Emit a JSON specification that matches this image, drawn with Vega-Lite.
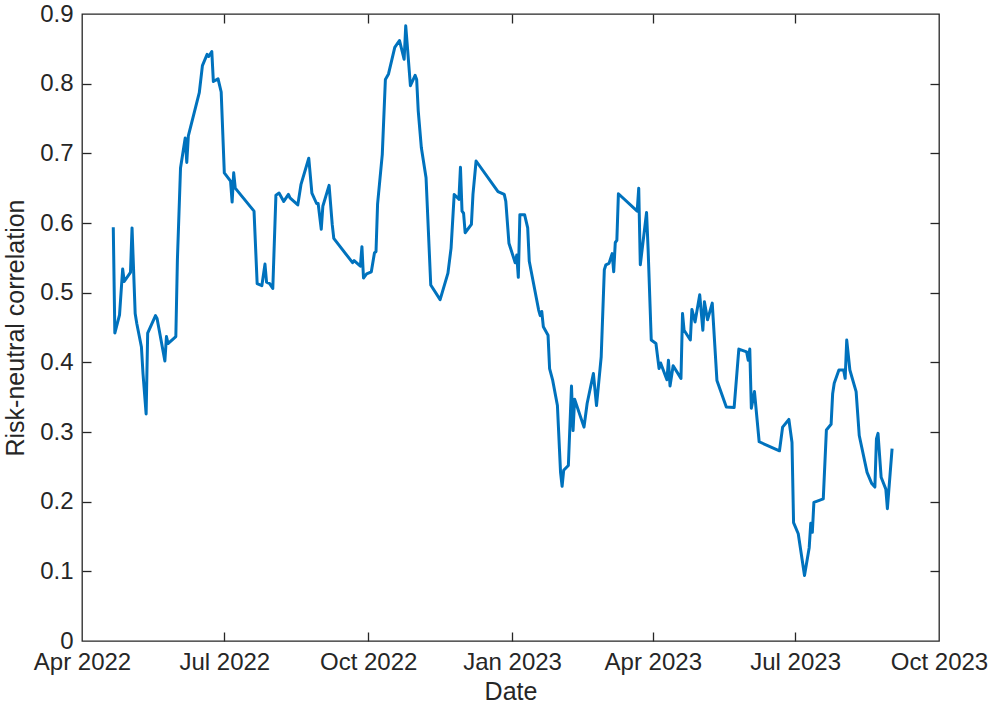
{
  "$schema": "https://vega.github.io/schema/vega-lite/v6.json",
  "autosize": "none",
  "width": 857,
  "height": 627,
  "padding": {"left": 82, "top": 14, "right": 57, "bottom": 67},
  "background": "white",
  "config": {
    "view": {"stroke": "#262626", "strokeWidth": 1.3},
    "font": "Liberation Sans",
    "axis": {
      "labelFont": "Liberation Sans",
      "labelFontSize": 24,
      "labelColor": "#262626",
      "titleFont": "Liberation Sans",
      "titleFontSize": 25,
      "titleFontWeight": "normal",
      "titleColor": "#262626",
      "domain": false,
      "tickColor": "#262626",
      "tickWidth": 1.3,
      "tickSize": 9,
      "grid": false
    }
  },
  "datasets": {
    "series": [
      {"date": "2022-04-21", "v": 0.594},
      {"date": "2022-04-22", "v": 0.442},
      {"date": "2022-04-25", "v": 0.468},
      {"date": "2022-04-27", "v": 0.534},
      {"date": "2022-04-28", "v": 0.516},
      {"date": "2022-05-02", "v": 0.529},
      {"date": "2022-05-03", "v": 0.593},
      {"date": "2022-05-05", "v": 0.470},
      {"date": "2022-05-06", "v": 0.456},
      {"date": "2022-05-09", "v": 0.422},
      {"date": "2022-05-10", "v": 0.384},
      {"date": "2022-05-12", "v": 0.326},
      {"date": "2022-05-13", "v": 0.442},
      {"date": "2022-05-18", "v": 0.467},
      {"date": "2022-05-19", "v": 0.463},
      {"date": "2022-05-24", "v": 0.402},
      {"date": "2022-05-25", "v": 0.437},
      {"date": "2022-05-26", "v": 0.427},
      {"date": "2022-05-31", "v": 0.437},
      {"date": "2022-06-01", "v": 0.547},
      {"date": "2022-06-03", "v": 0.679},
      {"date": "2022-06-06", "v": 0.722},
      {"date": "2022-06-07", "v": 0.687},
      {"date": "2022-06-08", "v": 0.725},
      {"date": "2022-06-15", "v": 0.787},
      {"date": "2022-06-17", "v": 0.826},
      {"date": "2022-06-20", "v": 0.842},
      {"date": "2022-06-21", "v": 0.839},
      {"date": "2022-06-23", "v": 0.846},
      {"date": "2022-06-24", "v": 0.803},
      {"date": "2022-06-27", "v": 0.807},
      {"date": "2022-06-29", "v": 0.788},
      {"date": "2022-07-01", "v": 0.672},
      {"date": "2022-07-05", "v": 0.660},
      {"date": "2022-07-06", "v": 0.630},
      {"date": "2022-07-07", "v": 0.672},
      {"date": "2022-07-08", "v": 0.650},
      {"date": "2022-07-20", "v": 0.617},
      {"date": "2022-07-22", "v": 0.513},
      {"date": "2022-07-25", "v": 0.510},
      {"date": "2022-07-27", "v": 0.541},
      {"date": "2022-07-28", "v": 0.515},
      {"date": "2022-07-30", "v": 0.513},
      {"date": "2022-08-01", "v": 0.506},
      {"date": "2022-08-03", "v": 0.640},
      {"date": "2022-08-05", "v": 0.643},
      {"date": "2022-08-08", "v": 0.631},
      {"date": "2022-08-11", "v": 0.641},
      {"date": "2022-08-12", "v": 0.636},
      {"date": "2022-08-17", "v": 0.626},
      {"date": "2022-08-19", "v": 0.655},
      {"date": "2022-08-24", "v": 0.693},
      {"date": "2022-08-26", "v": 0.643},
      {"date": "2022-08-29", "v": 0.628},
      {"date": "2022-08-30", "v": 0.628},
      {"date": "2022-09-01", "v": 0.591},
      {"date": "2022-09-02", "v": 0.624},
      {"date": "2022-09-06", "v": 0.654},
      {"date": "2022-09-08", "v": 0.598},
      {"date": "2022-09-09", "v": 0.578},
      {"date": "2022-09-21", "v": 0.543},
      {"date": "2022-09-22", "v": 0.546},
      {"date": "2022-09-26", "v": 0.538},
      {"date": "2022-09-27", "v": 0.566},
      {"date": "2022-09-28", "v": 0.521},
      {"date": "2022-09-30", "v": 0.527},
      {"date": "2022-10-03", "v": 0.530},
      {"date": "2022-10-05", "v": 0.557},
      {"date": "2022-10-06", "v": 0.559},
      {"date": "2022-10-07", "v": 0.627},
      {"date": "2022-10-10", "v": 0.698},
      {"date": "2022-10-12", "v": 0.806},
      {"date": "2022-10-14", "v": 0.814},
      {"date": "2022-10-18", "v": 0.852},
      {"date": "2022-10-21", "v": 0.862},
      {"date": "2022-10-24", "v": 0.835},
      {"date": "2022-10-25", "v": 0.883},
      {"date": "2022-10-26", "v": 0.855},
      {"date": "2022-10-28", "v": 0.797},
      {"date": "2022-10-31", "v": 0.812},
      {"date": "2022-11-01", "v": 0.806},
      {"date": "2022-11-02", "v": 0.761},
      {"date": "2022-11-04", "v": 0.708},
      {"date": "2022-11-07", "v": 0.665},
      {"date": "2022-11-10", "v": 0.511},
      {"date": "2022-11-16", "v": 0.490},
      {"date": "2022-11-21", "v": 0.528},
      {"date": "2022-11-23", "v": 0.564},
      {"date": "2022-11-25", "v": 0.641},
      {"date": "2022-11-28", "v": 0.634},
      {"date": "2022-11-29", "v": 0.680},
      {"date": "2022-11-30", "v": 0.617},
      {"date": "2022-12-01", "v": 0.614},
      {"date": "2022-12-02", "v": 0.586},
      {"date": "2022-12-06", "v": 0.598},
      {"date": "2022-12-07", "v": 0.641},
      {"date": "2022-12-09", "v": 0.689},
      {"date": "2022-12-23", "v": 0.645},
      {"date": "2022-12-27", "v": 0.641},
      {"date": "2022-12-28", "v": 0.631},
      {"date": "2022-12-30", "v": 0.571},
      {"date": "2023-01-03", "v": 0.543},
      {"date": "2023-01-04", "v": 0.554},
      {"date": "2023-01-05", "v": 0.522},
      {"date": "2023-01-06", "v": 0.612},
      {"date": "2023-01-09", "v": 0.612},
      {"date": "2023-01-11", "v": 0.593},
      {"date": "2023-01-12", "v": 0.545},
      {"date": "2023-01-18", "v": 0.475},
      {"date": "2023-01-19", "v": 0.467},
      {"date": "2023-01-20", "v": 0.473},
      {"date": "2023-01-21", "v": 0.451},
      {"date": "2023-01-24", "v": 0.439},
      {"date": "2023-01-25", "v": 0.391},
      {"date": "2023-01-27", "v": 0.374},
      {"date": "2023-01-30", "v": 0.338},
      {"date": "2023-02-01", "v": 0.242},
      {"date": "2023-02-02", "v": 0.222},
      {"date": "2023-02-03", "v": 0.245},
      {"date": "2023-02-06", "v": 0.252},
      {"date": "2023-02-08", "v": 0.366},
      {"date": "2023-02-09", "v": 0.302},
      {"date": "2023-02-10", "v": 0.347},
      {"date": "2023-02-16", "v": 0.307},
      {"date": "2023-02-18", "v": 0.341},
      {"date": "2023-02-22", "v": 0.384},
      {"date": "2023-02-24", "v": 0.338},
      {"date": "2023-02-27", "v": 0.408},
      {"date": "2023-03-01", "v": 0.533},
      {"date": "2023-03-02", "v": 0.540},
      {"date": "2023-03-04", "v": 0.542},
      {"date": "2023-03-06", "v": 0.556},
      {"date": "2023-03-07", "v": 0.530},
      {"date": "2023-03-08", "v": 0.572},
      {"date": "2023-03-09", "v": 0.575},
      {"date": "2023-03-10", "v": 0.642},
      {"date": "2023-03-22", "v": 0.617},
      {"date": "2023-03-23", "v": 0.650},
      {"date": "2023-03-24", "v": 0.540},
      {"date": "2023-03-28", "v": 0.615},
      {"date": "2023-03-29", "v": 0.562},
      {"date": "2023-03-31", "v": 0.432},
      {"date": "2023-04-03", "v": 0.427},
      {"date": "2023-04-05", "v": 0.391},
      {"date": "2023-04-06", "v": 0.399},
      {"date": "2023-04-10", "v": 0.375},
      {"date": "2023-04-11", "v": 0.403},
      {"date": "2023-04-12", "v": 0.366},
      {"date": "2023-04-14", "v": 0.395},
      {"date": "2023-04-19", "v": 0.377},
      {"date": "2023-04-20", "v": 0.470},
      {"date": "2023-04-21", "v": 0.446},
      {"date": "2023-04-25", "v": 0.432},
      {"date": "2023-04-26", "v": 0.476},
      {"date": "2023-04-28", "v": 0.458},
      {"date": "2023-05-01", "v": 0.497},
      {"date": "2023-05-03", "v": 0.446},
      {"date": "2023-05-04", "v": 0.487},
      {"date": "2023-05-06", "v": 0.461},
      {"date": "2023-05-09", "v": 0.485},
      {"date": "2023-05-12", "v": 0.374},
      {"date": "2023-05-18", "v": 0.336},
      {"date": "2023-05-23", "v": 0.335},
      {"date": "2023-05-26", "v": 0.419},
      {"date": "2023-05-31", "v": 0.415},
      {"date": "2023-06-01", "v": 0.403},
      {"date": "2023-06-02", "v": 0.419},
      {"date": "2023-06-03", "v": 0.334},
      {"date": "2023-06-05", "v": 0.358},
      {"date": "2023-06-08", "v": 0.286},
      {"date": "2023-06-21", "v": 0.273},
      {"date": "2023-06-23", "v": 0.307},
      {"date": "2023-06-27", "v": 0.318},
      {"date": "2023-06-29", "v": 0.285},
      {"date": "2023-06-30", "v": 0.170},
      {"date": "2023-07-03", "v": 0.154},
      {"date": "2023-07-07", "v": 0.094},
      {"date": "2023-07-10", "v": 0.134},
      {"date": "2023-07-11", "v": 0.169},
      {"date": "2023-07-12", "v": 0.156},
      {"date": "2023-07-13", "v": 0.199},
      {"date": "2023-07-19", "v": 0.204},
      {"date": "2023-07-21", "v": 0.303},
      {"date": "2023-07-24", "v": 0.311},
      {"date": "2023-07-25", "v": 0.355},
      {"date": "2023-07-26", "v": 0.370},
      {"date": "2023-07-29", "v": 0.389},
      {"date": "2023-08-01", "v": 0.389},
      {"date": "2023-08-02", "v": 0.377},
      {"date": "2023-08-03", "v": 0.432},
      {"date": "2023-08-05", "v": 0.389},
      {"date": "2023-08-09", "v": 0.358},
      {"date": "2023-08-11", "v": 0.295},
      {"date": "2023-08-16", "v": 0.242},
      {"date": "2023-08-19", "v": 0.226},
      {"date": "2023-08-21", "v": 0.221},
      {"date": "2023-08-22", "v": 0.290},
      {"date": "2023-08-23", "v": 0.298},
      {"date": "2023-08-25", "v": 0.235},
      {"date": "2023-08-28", "v": 0.218},
      {"date": "2023-08-29", "v": 0.190},
      {"date": "2023-09-01", "v": 0.276}
    ]
  },
  "data": {"name": "series"},
  "layer": [
    {
      "mark": {"type": "line", "color": "#0072BD", "strokeWidth": 3, "strokeJoin": "round", "clip": true},
      "encoding": {
        "x": {
          "field": "date", "type": "temporal",
          "scale": {"type": "utc", "domain": [{"year": 2022, "month": 4, "date": 1, "utc": true}, {"year": 2023, "month": 10, "date": 1, "utc": true}], "nice": false},
          "axis": {
            "orient": "bottom",
            "title": "Date",
            "titlePadding": 5,
            "ticks": false,
            "labelPadding": 9,
            "labelExpr": "utcFormat(datum.value, '%b %Y')",
            "labelFlush": false,
            "labelOverlap": false,
            "values": [
              {"year": 2022, "month": 4, "date": 1, "utc": true},
              {"year": 2022, "month": 7, "date": 1, "utc": true},
              {"year": 2022, "month": 10, "date": 1, "utc": true},
              {"year": 2023, "month": 1, "date": 1, "utc": true},
              {"year": 2023, "month": 4, "date": 1, "utc": true},
              {"year": 2023, "month": 7, "date": 1, "utc": true},
              {"year": 2023, "month": 10, "date": 1, "utc": true}
            ]
          }
        },
        "y": {
          "field": "v", "type": "quantitative",
          "scale": {"domain": [0, 0.9], "nice": false, "zero": false},
          "axis": {
            "orient": "left",
            "title": "Risk-neutral correlation",
            "titlePadding": 11,
            "ticks": false,
            "labelPadding": 9,
            "format": ".1~f",
            "labelFlush": false,
            "values": [0, 0.1, 0.2, 0.3, 0.4, 0.5, 0.6, 0.7, 0.8, 0.9]
          }
        }
      }
    },
    {
      "mark": {"type": "line", "opacity": 0},
      "encoding": {
        "x": {
          "field": "date", "type": "temporal",
          "axis": {
            "orient": "top", "offset": -627, "title": null, "labels": false,
            "values": [
              {"year": 2022, "month": 7, "date": 1, "utc": true},
              {"year": 2022, "month": 10, "date": 1, "utc": true},
              {"year": 2023, "month": 1, "date": 1, "utc": true},
              {"year": 2023, "month": 4, "date": 1, "utc": true},
              {"year": 2023, "month": 7, "date": 1, "utc": true}
            ]
          }
        },
        "y": {
          "field": "v", "type": "quantitative",
          "axis": {
            "orient": "right", "offset": -857, "title": null, "labels": false,
            "values": [0.1, 0.2, 0.3, 0.4, 0.5, 0.6, 0.7, 0.8]
          }
        }
      }
    },
    {
      "mark": {"type": "line", "opacity": 0},
      "encoding": {
        "x": {
          "field": "date", "type": "temporal",
          "axis": {
            "orient": "bottom", "offset": -627, "title": null, "labels": false,
            "values": [
              {"year": 2022, "month": 7, "date": 1, "utc": true},
              {"year": 2022, "month": 10, "date": 1, "utc": true},
              {"year": 2023, "month": 1, "date": 1, "utc": true},
              {"year": 2023, "month": 4, "date": 1, "utc": true},
              {"year": 2023, "month": 7, "date": 1, "utc": true}
            ]
          }
        },
        "y": {
          "field": "v", "type": "quantitative",
          "axis": {
            "orient": "left", "offset": -857, "title": null, "labels": false,
            "values": [0.1, 0.2, 0.3, 0.4, 0.5, 0.6, 0.7, 0.8]
          }
        }
      }
    }
  ],
  "resolve": {"axis": {"x": "independent", "y": "independent"}}
}
